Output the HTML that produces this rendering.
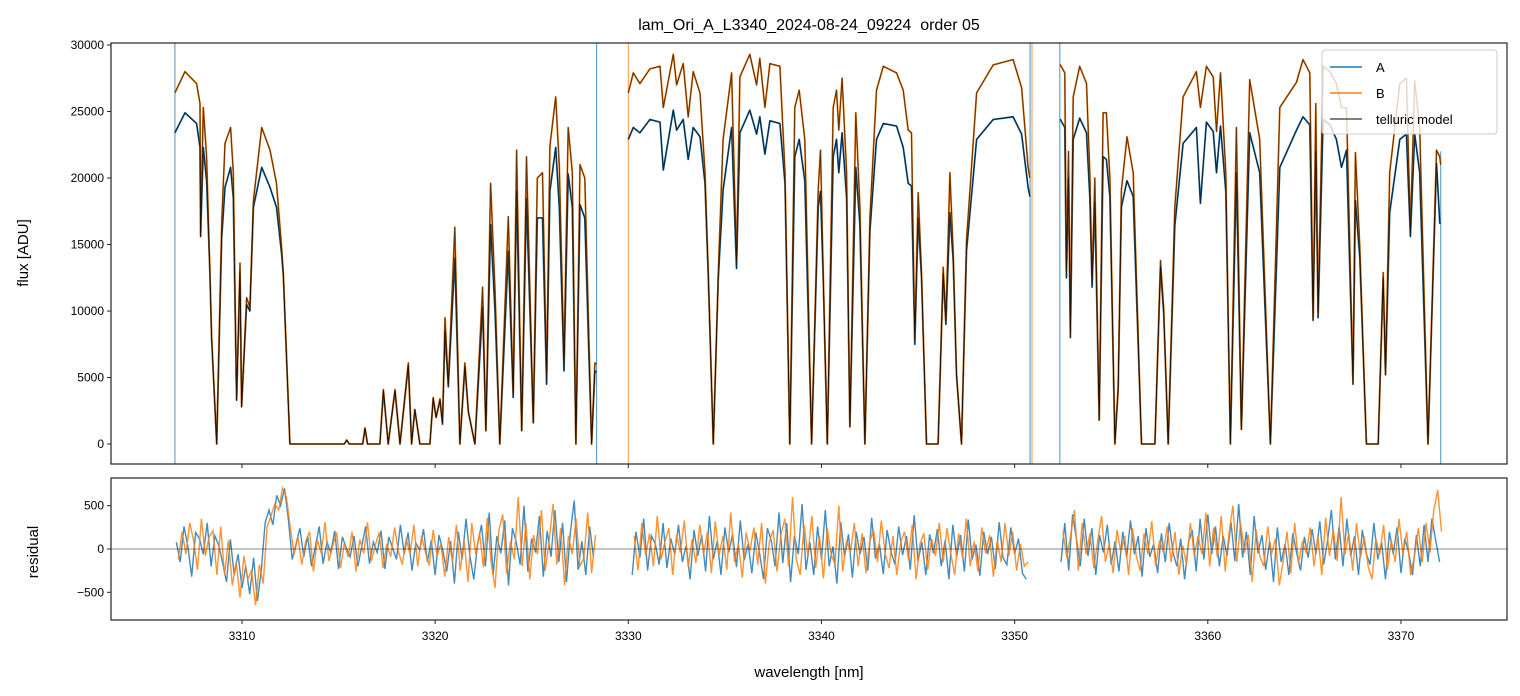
<!DOCTYPE html>
<html><head><meta charset="utf-8">
<style>
body{margin:0;background:#fff;}
svg{display:block;font-family:"Liberation Sans","DejaVu Sans",sans-serif;}
</style></head>
<body>
<svg id="chart" width="1520" height="696" viewBox="0 0 1520 696" xmlns="http://www.w3.org/2000/svg">
<defs>
<clipPath id="clipTop"><rect x="111" y="43" width="1396" height="421"/></clipPath>
<clipPath id="clipBot"><rect x="111" y="478" width="1396" height="142"/></clipPath>
</defs>
<rect width="1520" height="696" fill="#fff"/>
<text x="809" y="30" font-size="16" text-anchor="middle" fill="#000" style="white-space:pre">lam_Ori_A_L3340_2024-08-24_09224  order 05</text>
<g id="gTopPanel"></g>
<g id="gBotPanel"></g>
<text transform="translate(28,253) rotate(-90)" font-size="15" text-anchor="middle">flux [ADU]</text>
<text transform="translate(38,552) rotate(-90)" font-size="15" text-anchor="middle">residual</text>
<text x="809" y="677" font-size="15" text-anchor="middle">wavelength [nm]</text>
<g>
<rect x="1322" y="50" width="175" height="84" rx="3" fill="#fff" fill-opacity="0.8" stroke="#ccc"/>
<g><line x1="1330" y1="67" x2="1362" y2="67" stroke="#1f77b4" stroke-width="1.5"/><text x="1376" y="72" font-size="13">A</text></g>
<g><line x1="1330" y1="93" x2="1362" y2="93" stroke="#ff7f0e" stroke-width="1.5"/><text x="1376" y="98" font-size="13">B</text></g>
<g><line x1="1330" y1="119" x2="1362" y2="119" stroke="#555" stroke-width="1.5"/><text x="1376" y="124" font-size="13">telluric model</text></g>
</g>
</svg>
<script>
// ---- flux data (null = gap between detector segments) ----
const wl = [3306.53,3307.05,3307.65,3307.83,3307.86,3308.00,3308.17,3308.34,3308.43,3308.69,3308.95,3309.12,3309.41,3309.55,3309.72,3309.90,3309.98,3310.24,3310.41,3310.59,3311.02,3311.45,3311.79,3312.05,3312.14,3312.48,3315.30,3315.42,3315.55,3316.25,3316.37,3316.50,3317.14,3317.32,3317.57,3317.92,3318.18,3318.61,3318.78,3318.95,3319.21,3319.73,3319.90,3320.05,3320.25,3320.38,3320.51,3320.68,3321.02,3321.28,3321.54,3321.72,3322.06,3322.46,3322.63,3322.87,3323.10,3323.35,3323.79,3324.04,3324.22,3324.48,3324.73,3325.08,3325.29,3325.56,3325.77,3325.94,3326.24,3326.43,3326.67,3326.89,3327.10,3327.29,3327.50,3327.75,3328.10,3328.27,3328.36,
null,
3330.00,3330.26,3330.60,3331.12,3331.64,3331.81,3332.33,3332.50,3332.84,3333.10,3333.36,3333.71,3333.97,3334.14,3334.40,3334.66,3334.91,3335.35,3335.60,3335.78,3336.29,3336.64,3336.81,3337.07,3337.33,3337.85,3338.11,3338.36,3338.62,3338.85,3339.14,3339.49,3339.83,3339.95,3340.09,3340.30,3340.61,3340.78,3340.90,3341.07,3341.30,3341.47,3341.78,3341.99,3342.25,3342.51,3342.85,3343.20,3343.89,3344.23,3344.49,3344.66,3344.83,3345.01,3345.18,3345.44,3346.04,3346.30,3346.44,3346.65,3346.82,3346.99,3347.25,3347.51,3348.03,3348.89,3349.92,3350.36,3350.70,3350.79,
null,
3352.34,3352.37,3352.60,3352.68,3352.79,3352.89,3353.03,3353.37,3353.72,3353.89,3354.01,3354.15,3354.38,3354.58,3354.75,3354.93,3355.19,3355.36,3355.53,3355.82,3356.14,3356.57,3357.26,3357.55,3357.72,3357.95,3358.29,3358.72,3359.41,3359.62,3359.93,3360.28,3360.45,3360.66,3360.93,3361.17,3361.48,3361.74,3362.17,3362.69,3363.24,3363.73,3364.59,3364.93,3365.28,3365.45,3365.59,3365.71,3365.97,3366.32,3366.66,3366.92,3367.18,3367.52,3367.64,3367.87,3368.21,3368.82,3369.08,3369.20,3369.42,3369.94,3370.28,3370.49,3370.71,3370.97,3371.40,3371.84,3372.01,3372.06];
const fluxB = [26400,28000,27100,25600,15600,25300,21600,12900,8000,0,16600,22600,23800,20400,3300,13600,2800,11000,10300,18300,23800,22100,19600,14800,12900,0,0,300,0,0,1200,0,0,4100,0,4100,0,6100,0,2600,0,0,3500,2000,3400,1500,9500,4500,16300,0,6100,2400,0,11800,1000,19600,11600,0,17100,3800,22100,1000,21600,1600,20000,20400,5000,22400,26100,20900,6300,23800,20400,0,21000,20000,0,6100,6000,
null,
26400,27900,27100,28200,28400,25300,29300,27000,28600,24600,28000,26400,20400,12900,0,12900,22900,27900,13800,27600,29300,27000,29000,25300,28600,28400,20400,0,25300,26600,22900,0,19100,22100,12900,0,25300,26600,23600,27500,20400,1300,24900,17800,0,17000,26600,28400,27900,26600,23600,23400,7800,18900,12900,0,0,13300,9300,20400,14400,5300,0,15300,26400,28500,28900,26800,20800,20000,
null,
28500,28500,27900,12900,22000,8300,26100,28400,27100,20400,12300,20000,1800,24900,24900,20000,0,4300,19100,23100,20400,0,0,13800,10200,0,17800,26100,28000,25300,28400,27600,23500,27900,20400,0,23800,1100,27400,22900,0,25300,27200,28900,27900,9500,25600,9800,28400,28000,27100,25300,25300,4600,21900,14800,0,0,12900,5300,20400,27100,27500,16100,27300,23800,0,22100,21600,21000];
const fluxA = [23400,24900,24100,22300,15600,22300,19800,12900,8000,0,15500,19300,20800,18500,3300,13000,2800,10500,10000,17800,20800,19300,17800,14300,12700,0,0,300,0,0,1200,0,0,4000,0,4000,0,5900,0,2600,0,0,3400,2000,3300,1500,8500,4300,14000,0,5800,2400,0,10300,1000,16500,10000,0,14500,3500,19000,1000,18500,1600,17000,17000,4500,19000,22300,17800,5500,20300,17800,0,18000,17000,0,5500,5400,
null,
22900,23800,23400,24400,24200,20600,25100,23600,24400,21400,23800,23100,19600,12500,0,12500,19100,23800,13200,23400,25100,23300,24600,21800,24300,24100,19600,0,21600,22900,19800,0,17800,19000,12500,0,21600,22900,20400,23400,18500,1300,20800,16500,0,16000,22900,24100,23900,22300,19600,19400,7500,17000,12500,0,0,12800,9000,17400,13800,5200,0,14500,22900,24400,24600,23300,19300,18600,
null,
24400,24400,23800,12500,20000,8000,22900,24500,23400,18600,11800,18200,1800,21600,21400,18600,0,4200,17800,19800,18600,0,0,13300,9800,0,16400,22600,23800,18100,24200,23500,20400,23900,19000,0,20400,1100,23400,20400,0,20800,23600,24600,24000,9300,22000,9500,24400,24000,22900,20800,22100,4500,18300,14000,0,0,12500,5200,17400,22900,23300,15600,23300,20400,0,21100,16600,16600];
// segment-edge artifacts: wavelength, series
const spikeWl = [3306.53,3328.36,3330.00,3350.80,3350.90,3352.34,3372.06];
const spikeSeries = ['A','A','B','A','B','A','A'];
const spikeTop = [30500,30500,30500,30500,30500,30500,22000];
const spikeBot = [-1600,-1600,-1600,-1600,-1600,-1600,-1600];

// ---- residual data (0.2 nm sampling per segment) ----
const resStart = [3306.6,3330.2,3352.4];
const resStep = 0.2;
const resA1 = [80,-150,260,30,-320,190,120,-60,300,-200,150,40,-160,-380,110,-300,-60,-450,-200,-520,-100,-600,-250,300,450,280,620,500,700,350,-120,60,240,-90,150,-200,30,260,-170,80,-40,210,-230,140,10,-90,150,-200,30,260,-170,80,-40,210,-230,140,10,-120,280,-60,190,-250,70,-10,230,-150,100,-300,160,-20,-260,90,-400,200,-120,350,-80,-350,60,280,-200,420,-300,150,-50,330,-420,240,80,-180,500,-260,120,-40,380,-320,210,-90,450,-150,300,-380,180,560,-240,90,-300,260,-100];
const resB1 = [-120,200,-60,300,90,-240,350,-80,140,210,-300,260,-300,100,-420,-150,-560,-80,-350,-250,-650,-180,-400,260,380,520,450,700,600,250,-60,140,-180,90,200,-260,110,-50,310,-140,40,190,-220,60,-90,200,-260,110,-50,310,-140,40,190,-220,60,-90,250,-30,-180,120,-60,280,-200,150,-40,-190,220,-80,60,-320,140,-150,280,-250,100,-380,300,-60,180,-210,360,-150,-450,220,400,-280,90,-120,600,-200,300,-350,160,-60,450,-250,80,520,-180,240,-420,150,-60,350,-200,-100,420,-280,160];
const resA2 = [-300,200,-100,350,-250,150,60,-180,300,-220,120,-60,280,-150,40,-350,220,-80,160,-260,380,-120,90,-300,250,-40,170,-210,330,-130,60,-280,190,-50,-350,240,100,-200,420,-160,300,-380,150,-60,520,-240,80,-300,260,-120,450,-200,30,-400,310,-90,170,-330,200,-60,140,-250,360,-110,60,-290,220,-30,-180,260,-70,150,-240,390,-140,80,-300,170,-50,230,-200,100,-350,280,-90,160,-260,340,-120,50,-310,200,-60,140,-230,310,-100,-180,250,-60,120,-280,-350];
const resB2 = [150,-250,300,-80,180,-200,380,-120,90,240,-300,160,-40,330,-210,110,-160,280,-60,200,-280,320,-70,150,-240,420,-150,60,-330,190,-20,250,-180,300,-400,80,220,-260,160,350,-200,600,-120,-300,280,-80,380,-220,150,-340,240,-60,-180,500,-260,100,-40,300,-200,180,-280,90,220,-150,330,-60,-220,150,-300,80,200,-120,280,-350,60,180,-240,120,-80,300,-150,240,-60,-300,180,-100,350,-200,90,-260,250,-50,160,-320,100,-150,300,-80,200,-250,60,-200,-150];
const resA3 = [-150,300,-250,400,120,-200,350,-80,240,-300,160,-40,280,-180,90,-260,200,-100,330,-60,150,-320,240,-90,60,-280,180,-150,300,-40,-200,120,-350,80,220,-260,350,-120,400,-60,260,-200,150,-80,310,-140,520,-100,200,-300,380,-50,160,-240,90,-380,250,-150,60,-300,180,-40,-250,140,-100,230,-60,320,-180,100,450,-120,260,-200,350,-80,150,-300,220,-50,-180,300,-120,80,-350,200,-60,250,-280,120,-40,-300,160,-200,280,-150,350,100,-150];
const resB3 = [200,-100,150,450,-250,300,-60,180,-220,90,380,-150,60,-280,220,-40,150,-300,240,-80,-250,180,-60,320,-200,100,-40,260,-150,200,-300,40,-180,300,-80,150,-60,420,-200,250,-100,380,-260,180,500,-150,300,-40,160,-380,220,-90,-200,260,-60,120,-420,-150,200,-280,300,-160,80,-50,250,-200,150,-300,360,-80,220,-140,600,-60,180,-250,300,-100,140,-200,-350,120,-60,280,-240,100,-150,350,-60,200,-300,-80,240,-150,300,-40,450,680,200];

// ---- axis ticks ----
const xTicks = [3310,3320,3330,3340,3350,3360,3370];
const yTicksTop = [0,5000,10000,15000,20000,25000,30000];
const yTicksBot = [-500,0,500];

const NS='http://www.w3.org/2000/svg';
const X0=111,X1=1507, WL0=3303.22, WL1=3375.49;
const xs = w => X0 + (w-WL0)/(WL1-WL0)*(X1-X0);
const TY0=43,TY1=464, F0=-1500, F1=30150;
const ys = f => TY1 - (f-F0)/(F1-F0)*(TY1-TY0);
const BY0=478,BY1=620, R0=-820, R1=820;
const yr = r => BY1 - (r-R0)/(R1-R0)*(BY1-BY0);

function mk(tag, attrs, parent){const e=document.createElementNS(NS,tag);for(const k in attrs)e.setAttribute(k,attrs[k]);parent.appendChild(e);return e;}
const gTopPanel=document.getElementById('gTopPanel'), gBotPanel=document.getElementById('gBotPanel');

function pathFrom(xsArr, vals, yfun){
  let d='', pen=false;
  for(let i=0;i<xsArr.length;i++){
    if(xsArr[i]===null||vals[i]===null||vals[i]===undefined){pen=false;continue;}
    d+=(pen?'L':'M')+xs(xsArr[i]).toFixed(1)+','+yfun(vals[i]).toFixed(1);
    pen=true;
  }
  return d;
}

// top panel
const gT = mk('g',{'clip-path':'url(#clipTop)','stroke-linejoin':'round'},gTopPanel);
for(let i=0;i<spikeWl.length;i++){
  const l=mk('line',{x1:xs(spikeWl[i]),x2:xs(spikeWl[i]),y1:ys(spikeTop[i]),y2:ys(spikeBot[i]),stroke:spikeSeries[i]==='A'?'#1f77b4':'#ff7f0e','stroke-width':1,opacity:0.8},gT);
  
  
}
const pA=mk('path',{d:pathFrom(wl,fluxA,ys),fill:'none',stroke:'#1f77b4','stroke-width':1.8},gT);


const pB=mk('path',{d:pathFrom(wl,fluxB,ys),fill:'none',stroke:'#ff7f0e','stroke-width':1.8},gT);


const mA=mk('path',{d:pathFrom(wl,fluxA,ys),fill:'none',stroke:'#000','stroke-opacity':0.65,'stroke-width':1.1},gT);


const mB=mk('path',{d:pathFrom(wl,fluxB,ys),fill:'none',stroke:'#000','stroke-opacity':0.6,'stroke-width':1.1},gT);


const frT=mk('rect',{x:X0,y:TY0,width:X1-X0,height:TY1-TY0,fill:'none',stroke:'#222','stroke-width':1.2},gTopPanel);


yTicksTop.forEach(v=>{
  mk('line',{x1:X0-4,x2:X0,y1:ys(v),y2:ys(v),stroke:'#222'},gTopPanel);
  const t=mk('text',{x:X0-7,y:ys(v)+4,'font-size':12,'text-anchor':'end'},gTopPanel);
  t.textContent=v;
  
  
});
xTicks.forEach(v=>{ mk('line',{x1:xs(v),x2:xs(v),y1:TY1,y2:TY1+4,stroke:'#222'},gTopPanel); });

// bottom panel
const gB = mk('g',{'clip-path':'url(#clipBot)'},gBotPanel);
const resA=[resA1,resA2,resA3], resB=[resB1,resB2,resB3];
function resPath(start, arr){
  let d='';
  arr.forEach((v,i)=>{d+=(i?'L':'M')+xs(start+i*resStep).toFixed(1)+','+yr(v).toFixed(1);});
  return d;
}
for(let s=0;s<3;s++){
  const a=mk('path',{d:resPath(resStart[s],resA[s]),fill:'none',stroke:'#1f77b4','stroke-width':1.4,opacity:0.85},gB);
  
  
}
for(let s=0;s<3;s++){
  const b=mk('path',{d:resPath(resStart[s]+0.1,resB[s]),fill:'none',stroke:'#ff7f0e','stroke-width':1.4,opacity:0.85},gB);
  
  
}
const zl=mk('line',{x1:X0,x2:X1,y1:yr(0),y2:yr(0),stroke:'#000','stroke-opacity':0.6,'stroke-width':0.8},gBotPanel);


const frB=mk('rect',{x:X0,y:BY0,width:X1-X0,height:BY1-BY0,fill:'none',stroke:'#222','stroke-width':1.2},gBotPanel);


yTicksBot.forEach(v=>{
  mk('line',{x1:X0-4,x2:X0,y1:yr(v),y2:yr(v),stroke:'#222'},gBotPanel);
  const t=mk('text',{x:X0-7,y:yr(v)+4,'font-size':12,'text-anchor':'end'},gBotPanel);
  t.textContent=(v<0?'\u2212'+(-v):v);
  
  
});
xTicks.forEach(v=>{
  mk('line',{x1:xs(v),x2:xs(v),y1:BY1,y2:BY1+4,stroke:'#222'},gBotPanel);
  const t=mk('text',{x:xs(v),y:BY1+20,'font-size':12,'text-anchor':'middle'},gBotPanel);
  t.textContent=v;
  
  
});
</script>
</body></html>
